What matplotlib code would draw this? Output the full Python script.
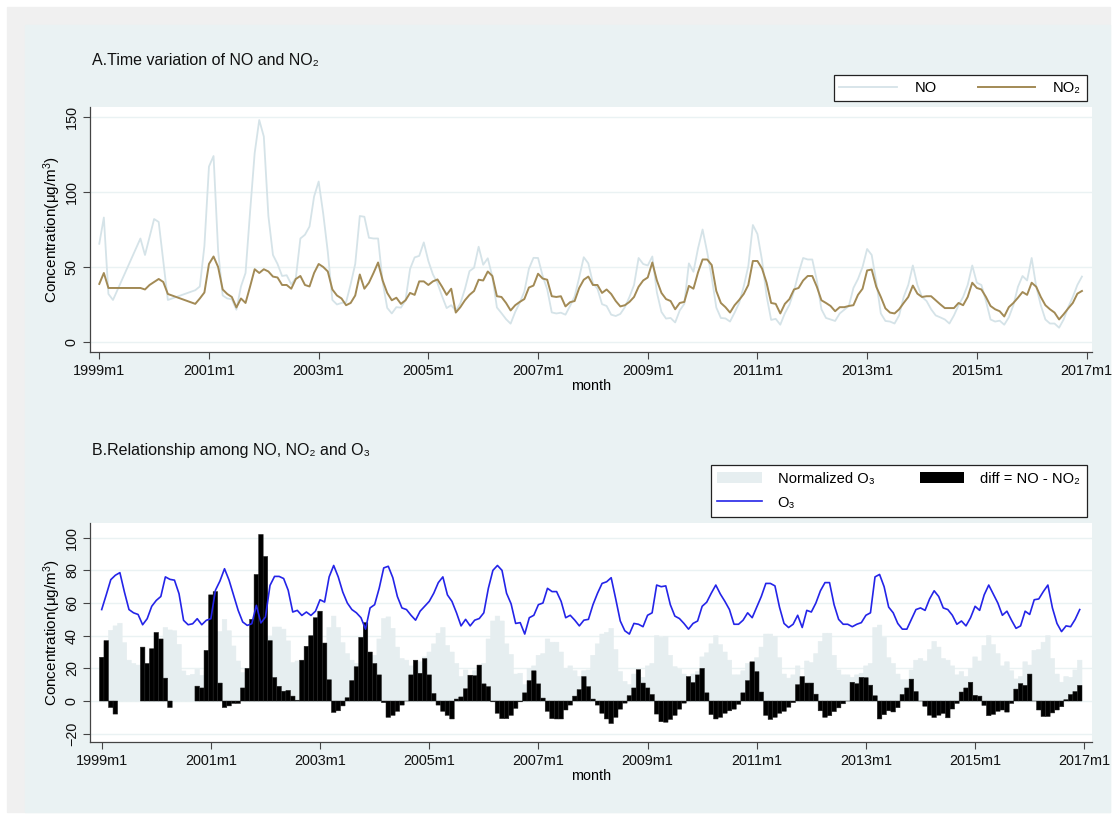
import numpy as np
import matplotlib.pyplot as plt
from matplotlib.patches import Rectangle, Patch
from matplotlib.lines import Line2D

plt.rcParams['font.family'] = ['Liberation Sans', 'DejaVu Sans']
plt.rcParams['mathtext.fontset'] = 'custom'
plt.rcParams['mathtext.rm'] = 'Liberation Sans'
plt.rcParams['mathtext.it'] = 'Liberation Sans'

nan = np.nan

# monthly series, 1999m1 .. 2016m12, one row per year
no = [
    65.5, 83, 32, 28, nan, nan, nan, nan, nan, 69, 58, 70,          # 1999
    82, 80, 54, 28, nan, nan, nan, nan, nan, 34.5, 37, 64,          # 2000
    117, 124, 61, 31, 29, 28.5, 21.5, 37, 46, 87, 126, 148,         # 2001
    137, 84, 58, 52, 44, 44.5, 38.5, 42.5, 69, 71.5, 77, 97,        # 2002
    107, 85.5, 60, 28, 25, 26, 26.5, 38.5, 52, 84, 83.5, 69.5,      # 2003
    69, 69, 40, 22.7, 19, 23.2, 22.9, 27.8, 48.7, 56.4, 57.4, 66.4, # 2004
    54, 45, 39.2, 30.5, 22.6, 24.5, 20.8, 25.7, 35.3, 47.2, 49.5, 63.5,  # 2005
    51.5, 55.8, 43.5, 23, 19.2, 15.2, 12.2, 20, 26.2, 33.6, 48.8, 56.1,  # 2006
    56, 44.1, 35.2, 19.7, 19, 19.5, 18.2, 24, 30.3, 43, 56.5, 52.4, # 2007
    39.2, 35.5, 25.2, 24, 18.2, 17.3, 18.7, 23.2, 30, 38, 56, 52,   # 2008
    51, 57, 33, 20, 15.6, 16, 13, 21, 25.4, 52.4, 46.8, 62.4,       # 2009
    75, 60, 43, 23, 16, 15.7, 13.6, 19.5, 26, 37, 50.5, 78,         # 2010
    72, 54.5, 30.7, 14.7, 15.4, 11.5, 19.1, 24.8, 34, 46, 56, 55,   # 2011
    55, 41, 21.8, 16, 15, 14, 19, 21.5, 24, 36, 42, 50,             # 2012
    62, 58, 40, 19, 14, 13.6, 12.3, 17.7, 30, 38, 51, 38,           # 2013
    30, 27.3, 21.8, 17.7, 16.4, 15, 12.3, 17.7, 24.5, 30, 38, 51,   # 2014
    39.5, 38, 27.3, 15, 13.6, 14.2, 11.5, 16.4, 24.5, 36.8, 44, 41, # 2015
    56, 36.8, 24.5, 15, 12.3, 12.3, 9.5, 15, 23.2, 30, 38, 43.6,    # 2016
]

no2 = [
    38.7, 46, 36, 36, nan, nan, nan, nan, nan, 36, 35, 38,
    40, 42, 40, 32, nan, nan, nan, nan, nan, 25.4, 29, 33,
    52, 57, 50, 35, 32, 30, 23, 29, 26, 37, 48.5, 46,
    48.5, 47, 43.6, 43, 38, 38, 35.5, 42, 44, 38, 37, 46,
    52, 50, 47, 35, 31, 29, 24.5, 26, 31, 45, 35.5, 39.5,
    46, 53, 41, 32.7, 27.8, 29.5, 25.4, 27.8, 32.7, 31.4, 40.4, 40.4,
    38, 40.4, 41.7, 36.8, 31.4, 35.5, 19.6, 23.2, 27.8, 31.4, 34, 41.5,
    41, 47, 44, 30.5, 30, 26, 21, 24.5, 26.7, 28.6, 36.3, 37.6,
    45.5, 42.3, 41.5, 30.5, 30, 30.5, 23.7, 26.5, 27.3, 36, 41.5, 43.6,
    38, 38, 32.7, 35, 32, 27.3, 23.7, 24.5, 26.7, 30, 36.8, 41,
    43, 53, 41, 32.7, 28.6, 27.3, 21.8, 26, 26.7, 37.4, 35.5, 46.4,
    55, 55, 51.3, 34, 26, 23.2, 19.6, 24.5, 28, 32, 38, 54,
    54, 49, 39.5, 26, 25.4, 19, 25.4, 28.6, 35, 36, 41, 44,
    44, 36.8, 27.8, 26, 24, 20.5, 23.2, 23.2, 24, 24.5, 31.4, 35.5,
    47.7, 48.3, 36.8, 30, 22.4, 19.6, 19, 21.8, 26, 30, 37.6, 32.2,
    30, 30.5, 30.5, 27.8, 25.1, 22.6, 22.6, 22.6, 26, 24.5, 30, 39.5,
    36, 35, 30, 24, 21.8, 20.5, 17, 23.2, 26, 29.5, 33.3, 31.4,
    39.5, 36.8, 30, 24.5, 21.8, 19.6, 15, 18.5, 22.4, 26, 32.2, 34,
]

o3 = [
    56, 65, 74.3, 77, 78.6, 66.7, 56, 54, 53, 46.7, 50.4, 58,
    61.6, 64, 76, 74.5, 74, 65.7, 49.4, 46.7, 47.3, 50.4, 46.7, 49.4,
    50.4, 67.8, 73.5, 81, 74, 64.7, 55.5, 48.4, 46.3, 47.3, 58.6, 47.8,
    51.4, 70.8, 76.3, 76.3, 75, 67.8, 54.5, 55.5, 52.4, 54.5, 52.4, 55,
    62, 60.6, 76, 83, 76, 66.7, 60, 56, 54, 51, 44, 57,
    59, 69, 81.5, 82.5, 75.5, 64, 57, 56, 52.5, 49.5, 55, 58,
    61, 66, 72.5, 76, 65, 61, 54, 46, 50, 46, 49.5, 50.5,
    54, 69, 80, 83, 80, 66, 59.5, 47.5, 48, 41, 51, 52.5,
    59, 60, 69, 67, 67, 61, 51, 52.5, 49.5, 46, 49.5, 50,
    59, 66, 72, 73, 75.5, 62.5, 49, 43, 41, 47.5, 47, 45.5,
    52.5, 54, 71, 70, 70.5, 59, 52, 50.5, 47.5, 44, 47.5, 49,
    58, 60.5, 66, 71, 65.5, 61, 56, 47, 47, 49.5, 54, 51,
    57.5, 64, 72, 72, 70.5, 57.5, 47.5, 45, 47, 52.5, 45, 55.5,
    54.5, 60, 67.5, 72.5, 72.5, 59, 50, 47, 47, 45.5, 47, 48,
    52.5, 54, 76, 77.5, 70, 57.5, 54, 47.5, 44, 44, 50, 56,
    57, 55.5, 62.5, 67.5, 64, 57, 56, 52.5, 47, 49, 46, 51,
    58, 55.5, 65, 71, 65.5, 60, 52.5, 55, 49.5, 44.5, 46, 55,
    53, 62, 62.5, 67, 71, 57, 47.5, 42.5, 46, 45.5, 50, 56,
]

o3_norm = [
    25, 34, 43.3, 46, 47.6, 35.7, 25, 23, 22, 15.7, 19.4, 27,
    30.6, 33, 45, 43.5, 43, 34.7, 18.4, 15.7, 16.3, 19.4, 15.7, 18.4,
    19.4, 36.8, 42.5, 50, 43, 33.7, 24.5, 17.4, 15.3, 16.3, 27.6, 16.8,
    20.4, 39.8, 45.3, 45.3, 44, 36.8, 23.5, 24.5, 21.4, 23.5, 21.4, 24,
    31, 29.6, 45, 52, 45, 35.7, 29, 25, 23, 20, 13, 26,
    28, 38, 50.5, 51.5, 44.5, 33, 26, 25, 21.5, 18.5, 24, 27,
    30, 35, 41.5, 45, 34, 30, 23, 15, 19, 15, 18.5, 19.5,
    23, 38, 49, 52, 49, 35, 28.5, 16.5, 17, 10, 20, 21.5,
    28, 29, 38, 36, 36, 30, 20, 21.5, 18.5, 15, 18.5, 19,
    28, 35, 41, 42, 44.5, 31.5, 18, 12, 10, 16.5, 16, 14.5,
    21.5, 23, 40, 39, 39.5, 28, 21, 19.5, 16.5, 13, 16.5, 18,
    27, 29.5, 35, 40, 34.5, 30, 25, 16, 16, 18.5, 23, 20,
    26.5, 33, 41, 41, 39.5, 26.5, 16.5, 14, 16, 21.5, 14, 24.5,
    23.5, 29, 36.5, 41.5, 41.5, 28, 19, 16, 16, 14.5, 16, 17,
    21.5, 23, 45, 46.5, 39, 26.5, 23, 16.5, 13, 13, 19, 25,
    26, 24.5, 31.5, 36.5, 33, 26, 25, 21.5, 16, 18, 15, 20,
    27, 24.5, 34, 40, 34.5, 29, 21.5, 24, 18.5, 13.5, 15, 24,
    22, 31, 31.5, 36, 40, 26, 16.5, 11.5, 15, 14.5, 19, 25,
]

tick_years = list(range(1999, 2018, 2))

no = np.array(no)
no2 = np.array(no2)
o3 = np.array(o3)
o3_norm = np.array(o3_norm)
month = np.arange(len(no))
diff = no - no2

W, H = 1116, 818
fig = plt.figure(figsize=(W / 100, H / 100), dpi=100)
fig.patch.set_facecolor('white')

# background layers (pixel boxes converted to figure fractions)
def box(x0, y0, x1, y1):
    return (x0 / W, 1 - y1 / H), (x1 - x0) / W, (y1 - y0) / H

xy, w, h = box(7, 7, 1110, 812)
fig.add_artist(Rectangle(xy, w, h, transform=fig.transFigure, color='#F0F0F0', zorder=-10))
xy, w, h = box(25, 25, 1110, 812)
fig.add_artist(Rectangle(xy, w, h, transform=fig.transFigure, color='#EAF2F3', zorder=-9))

ax1 = fig.add_axes([90 / W, 1 - 352 / H, 1002 / W, 245 / H])
ax2 = fig.add_axes([90 / W, 1 - 742 / H, 1002 / W, 219 / H])

ylab = 'Concentration(μg/m$^{3}$)'
tick_pos = [(y - 1999) * 12 for y in tick_years]
tick_lab = [f'{y}m1' for y in tick_years]

for ax in (ax1, ax2):
    ax.set_facecolor('white')
    for s in ('top', 'right'):
        ax.spines[s].set_visible(False)
    for s in ('left', 'bottom'):
        ax.spines[s].set_color('#444444')
        ax.spines[s].set_linewidth(0.9)
    ax.set_xticks(tick_pos)
    ax.set_xticklabels(tick_lab)
    ax.tick_params(direction='out', length=5, width=0.8, color='#444444',
                   labelsize=10.4, labelcolor='#111111')
    ax.tick_params(axis='y', labelrotation=90, pad=3)
    ax.yaxis.grid(True, color='#EAF2F3', linewidth=1.0)
    ax.set_axisbelow(True)
    ax.set_xlabel('month', fontsize=10.4, labelpad=1)
    ax.set_ylabel(ylab, fontsize=11)
    ax.yaxis.set_label_coords(-0.027, 0.5)

# ---- panel A ----
m1 = ~np.isnan(no)
m2 = ~np.isnan(no2)
ax1.plot(month[m1], no[m1], color='#D5E3E8', linewidth=1.3, label='NO')
ax1.plot(month[m2], no2[m2], color='#A28A55', linewidth=1.4, label='NO₂')
ax1.set_xlim(-2.03, 217.2)
ax1.set_ylim(-6.7, 156.7)
ax1.set_yticks([0, 50, 100, 150])
for lab in ax1.get_yticklabels():
    lab.set_va('center')

leg1 = ax1.legend(loc='upper right', bbox_to_anchor=(1087 / W, 1 - 75 / H),
                  bbox_transform=fig.transFigure, ncol=2, frameon=True,
                  fancybox=False, edgecolor='#222222', framealpha=1,
                  fontsize=10.6, handlelength=3.9, handletextpad=1.2,
                  columnspacing=2.8, borderpad=0.4, borderaxespad=0)
leg1.get_frame().set_linewidth(0.9)

fig.text(92 / W, 1 - 60 / H, 'A.Time variation of NO and NO₂', fontsize=11.5,
         ha='left', va='center', color='#111111')

# ---- panel B ----
ax2.bar(month, o3_norm, width=1.0, color='#E6EEF0', edgecolor='#E6EEF0',
        linewidth=0.4, zorder=2, snap=False)
mb = ~np.isnan(diff)
ax2.bar(month[mb], diff[mb], width=1.0, color='black', edgecolor='#202020',
        linewidth=0.35, zorder=3, snap=False)
ax2.plot(month, o3, color='#2424E8', linewidth=1.2, zorder=4)
ax2.set_xlim(-2.57, 217.7)
ax2.set_ylim(-25.1, 109)
ax2.set_yticks([-20, 0, 20, 40, 60, 80, 100])
for lab in ax2.get_yticklabels():
    lab.set_va('center')

handles = [Patch(facecolor='#E6EEF0', edgecolor='none'),
           Line2D([], [], color='#2424E8', linewidth=1.2),
           Patch(facecolor='black', edgecolor='none')]
labels = ['Normalized O₃', 'O₃', 'diff = NO - NO₂']
leg2 = ax2.legend(handles, labels, loc='upper right',
                  bbox_to_anchor=(1087 / W, 1 - 465 / H),
                  bbox_transform=fig.transFigure, ncol=2, frameon=True,
                  fancybox=False, edgecolor='#222222', framealpha=1,
                  fontsize=10.6, handlelength=3.0, handleheight=0.85,
                  handletextpad=1.1, columnspacing=3.1, labelspacing=0.7,
                  borderpad=0.45, borderaxespad=0)
leg2.get_frame().set_linewidth(0.9)

fig.text(92 / W, 1 - 450 / H, 'B.Relationship among NO, NO₂ and O₃', fontsize=11.5,
         ha='left', va='center', color='#111111')

fig.savefig('out.png', dpi=100, facecolor=fig.get_facecolor())
